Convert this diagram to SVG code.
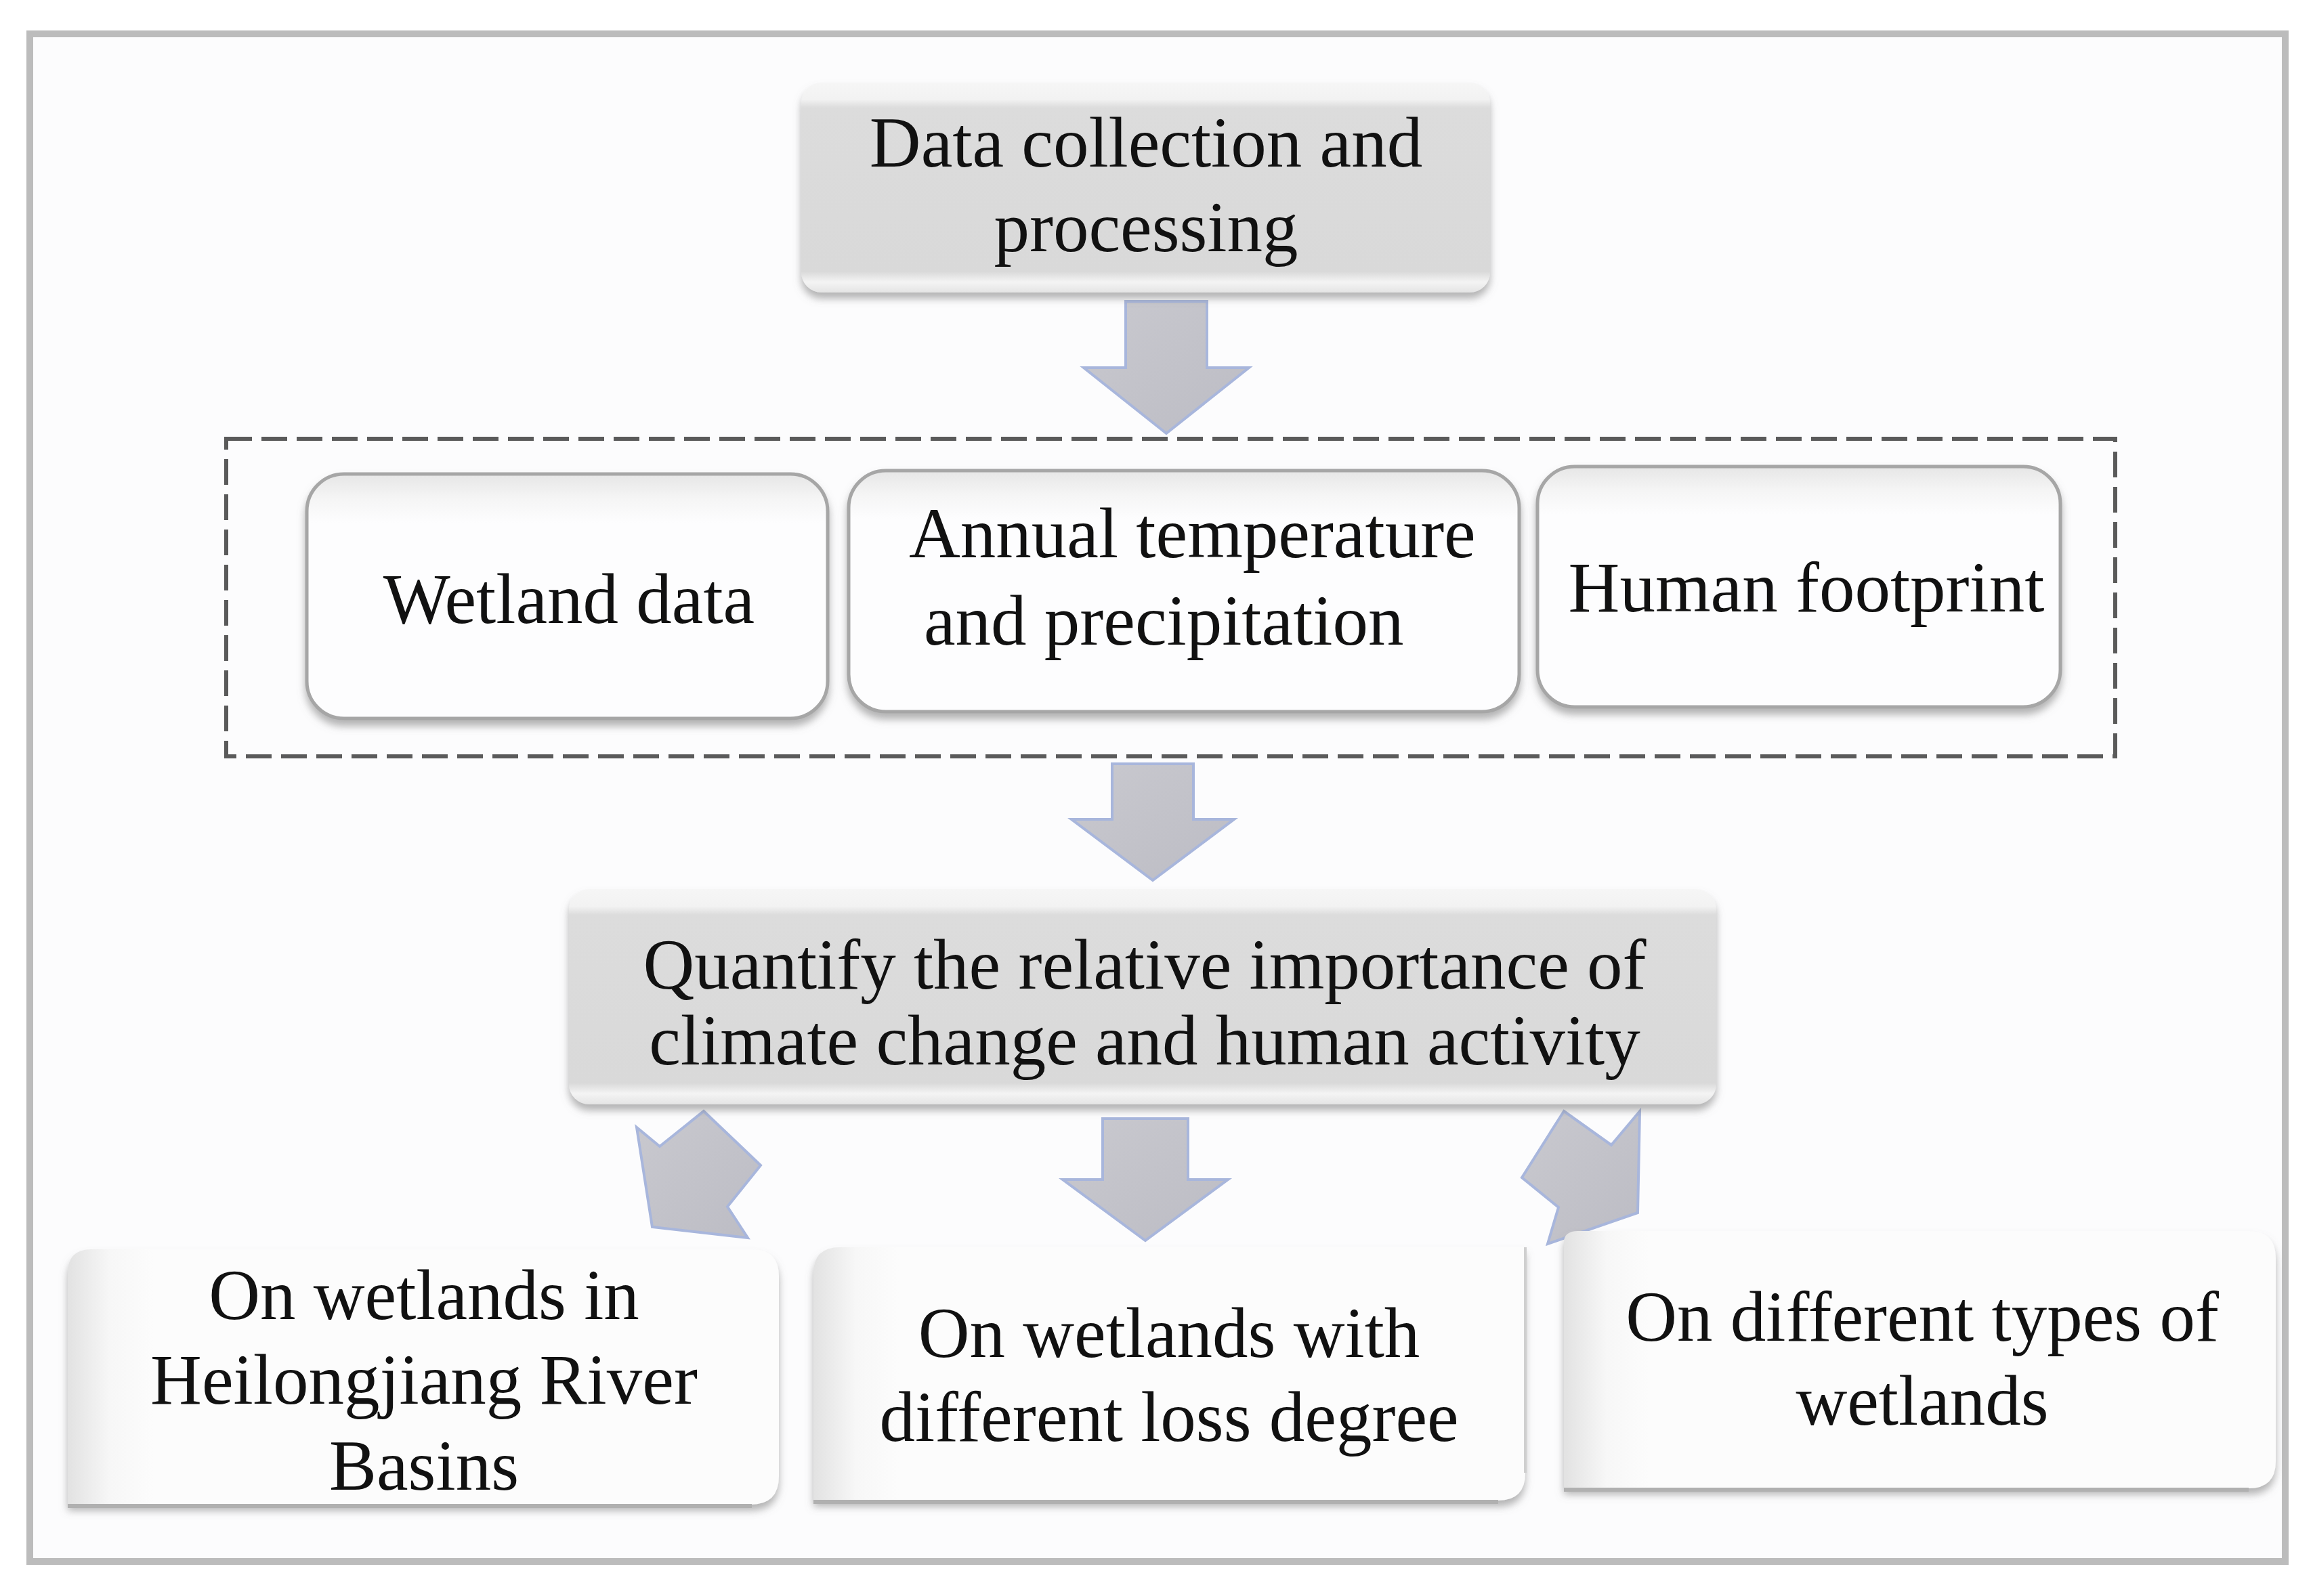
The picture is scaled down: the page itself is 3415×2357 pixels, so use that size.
<svg xmlns="http://www.w3.org/2000/svg" width="3415" height="2357" viewBox="0 0 3415 2357">
<defs>
<linearGradient id="gBevel" x1="0" y1="0" x2="0" y2="1">
<stop offset="0" stop-color="#f6f6f6"/>
<stop offset="0.08" stop-color="#f2f2f2"/>
<stop offset="0.12" stop-color="#dcdcdc"/>
<stop offset="0.9" stop-color="#d9d9d9"/>
<stop offset="0.95" stop-color="#f4f4f4"/>
<stop offset="1" stop-color="#e4e4e4"/>
</linearGradient>
<linearGradient id="gInner" x1="0" y1="0" x2="0" y2="1">
<stop offset="0" stop-color="#e6e6e6"/>
<stop offset="0.1" stop-color="#f5f5f5"/>
<stop offset="0.2" stop-color="#fdfdfe"/>
<stop offset="1" stop-color="#fdfdfe"/>
</linearGradient>
<linearGradient id="gSide" x1="0" y1="0" x2="1" y2="0">
<stop offset="0" stop-color="#e2e2e2"/>
<stop offset="0.06" stop-color="#f7f7f7"/>
<stop offset="0.12" stop-color="#fcfcfc"/>
<stop offset="1" stop-color="#fcfcfc"/>
</linearGradient>
<linearGradient id="gArrow" x1="0" y1="0" x2="1" y2="1">
<stop offset="0" stop-color="#c9c9cf"/>
<stop offset="1" stop-color="#bcbcc4"/>
</linearGradient>
<filter id="shadow" x="-10%" y="-10%" width="120%" height="130%">
<feDropShadow dx="0" dy="9" stdDeviation="6" flood-color="#777777" flood-opacity="0.55"/>
</filter>
</defs>
<style>
.t{font-family:"Liberation Serif","Times New Roman",serif;font-size:105px;fill:#111111;text-anchor:middle}
.ts{font-family:"Liberation Serif","Times New Roman",serif;font-size:105px;fill:#111111;text-anchor:start}
.bevel{fill:url(#gBevel);filter:url(#shadow)}
.inner{fill:url(#gInner);stroke:#a6a6a6;stroke-width:5;filter:url(#shadow)}
.out{fill:url(#gSide);filter:url(#shadow)}
.arrow{fill:url(#gArrow);stroke:#a8b6dc;stroke-width:4;stroke-linejoin:miter}
</style>
<rect x="0" y="0" width="3415" height="2357" fill="#ffffff"/>
<rect id="frame" x="44" y="50" width="3330" height="2256" fill="#fcfcfd" stroke="#bcbcbc" stroke-width="10"/>

<g id="connectors">
<polygon class="arrow" points="1662,445 1782,445 1782,543 1844,543 1722,640 1600,543 1662,543"/>
<polygon class="arrow" points="1642,1128 1762,1128 1762,1210 1822,1210 1702,1300 1582,1210 1642,1210"/>
<polygon class="arrow" points="1628,1652 1754,1652 1754,1742 1813,1742 1691,1832 1569,1742 1628,1742"/>
<polygon class="arrow" points="1039,1641 1123,1721 1074,1782 1104,1828 963,1812 940,1665 974,1693"/>
<polygon class="arrow" points="2309,1641 2379,1691 2421,1641 2418,1791 2285,1837 2301,1783 2247,1739"/>
</g>

<g id="node-data-collection">
<rect class="bevel" x="1183" y="122" width="1017" height="310" rx="30"/>
<text class="t" x="1692" y="246">Data collection and</text>
<text class="t" x="1692" y="371">processing</text>
</g>

<g id="node-inputs">
<rect x="334" y="648" width="2789" height="469" fill="none" stroke="#5a5a5a" stroke-width="6" stroke-dasharray="38 14"/>
</g>

<g id="node-wetland-data">
<rect class="inner" x="453" y="700" width="769" height="361" rx="55"/>
<text class="t" x="840" y="920">Wetland data</text>
</g>

<g id="node-temp-precip">
<rect class="inner" x="1253" y="695" width="990" height="356" rx="55"/>
<text class="ts" x="1342" y="823">Annual temperature</text>
<text class="ts" x="1364" y="952">and precipitation</text>
</g>

<g id="node-human-footprint">
<rect class="inner" x="2270" y="689" width="772" height="355" rx="55"/>
<text class="t" x="2667" y="903">Human footprint</text>
</g>

<g id="node-quantify">
<rect class="bevel" x="840" y="1313" width="1694" height="318" rx="30"/>
<text class="t" x="1690" y="1460">Quantify the relative importance of</text>
<text class="t" x="1690" y="1572">climate change and human activity</text>
</g>

<g id="node-basins">
<path class="out" d="M100,1880 Q100,1845 135,1845 L1110,1845 Q1150,1845 1150,1885 L1150,2180 Q1150,2222 1108,2222 L100,2222 Z"/>
<line x1="100" y1="2224" x2="1110" y2="2224" stroke="#b0b0b0" stroke-width="6"/>
<text class="t" x="626" y="1948">On wetlands in</text>
<text class="t" x="626" y="2073">Heilongjiang River</text>
<text class="t" x="626" y="2200">Basins</text>
</g>

<g id="node-loss-degree">
<path class="out" d="M1201,1880 Q1201,1842 1240,1842 L2252,1842 L2252,2175 Q2252,2216 2212,2216 L1201,2216 Z"/>
<line x1="1201" y1="2218" x2="2212" y2="2218" stroke="#b0b0b0" stroke-width="6"/>
<line x1="2252" y1="1842" x2="2252" y2="2175" stroke="#cfcfcf" stroke-width="4"/>
<text class="t" x="1726" y="2004">On wetlands with</text>
<text class="t" x="1726" y="2128">different loss degree</text>
</g>

<g id="node-wetland-types">
<path class="out" d="M2309,1835 Q2309,1818 2330,1818 L3320,1818 Q3360,1818 3360,1858 L3360,2158 Q3360,2198 3320,2198 L2309,2198 Z"/>
<line x1="2309" y1="2200" x2="3320" y2="2200" stroke="#b0b0b0" stroke-width="6"/>
<text class="t" x="2838" y="1980">On different types of</text>
<text class="t" x="2838" y="2104">wetlands</text>
</g>
</svg>
